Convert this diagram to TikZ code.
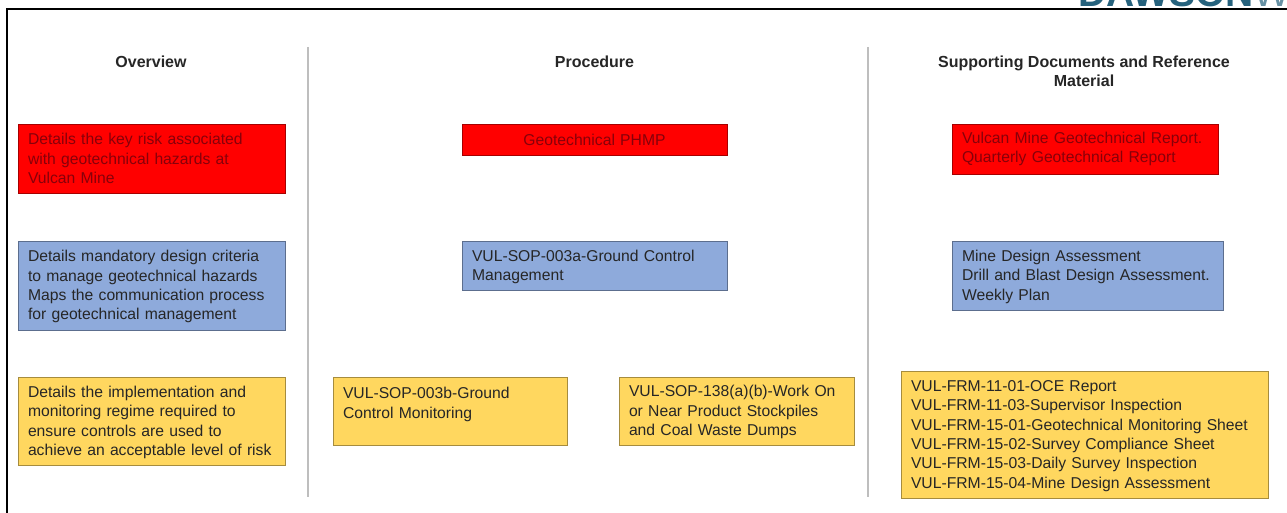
\documentclass[tikz,border=0pt]{standalone}
\usepackage{fontspec}
\setmainfont{Liberation Sans}
\definecolor{rfill}{RGB}{255,0,0}
\definecolor{rtext}{RGB}{135,0,10}
\definecolor{bfill}{RGB}{142,170,219}
\definecolor{yfill}{RGB}{255,215,95}
\definecolor{logo}{RGB}{38,98,125}
\definecolor{divider}{RGB}{190,190,190}
\tikzset{
  card/.style={draw=#1!65!black,line width=0.8pt,anchor=north west,inner xsep=10pt,inner ysep=0pt,
    align=left,font=\fontsize{15.7}{19.4}\selectfont,text=black!85,outer sep=0pt},
  redcard/.style={card=rfill,fill=rfill,text=rtext},
  bluecard/.style={card=bfill,fill=bfill,execute at begin node={\rule{0pt}{14pt}}},
  yellowcard/.style={card=yfill,fill=yfill,execute at begin node={\rule{0pt}{14pt}}},
  heading/.style={font=\fontsize{16}{19.4}\selectfont\bfseries,align=center,text=black!85},
  divline/.style={draw=divider,line width=2pt},
  frameline/.style={draw=black,line width=2pt}
}
\newcommand{\cardat}[7]{\node[#1,minimum width=#4pt-#2pt-0.5pt,minimum height=#5pt-#3pt,text width=#4pt-#2pt-20pt] (#6) at (#2pt,-#3pt) {#7};}
\begin{document}
\begin{tikzpicture}[x=1pt,y=-1pt]
\useasboundingbox (0,0) rectangle (1287,513);
\begin{scope}
\clip (1000,0) rectangle (1287,8);
\node[anchor=base west,inner sep=0pt,text=logo,font=\fontsize{39}{39}\selectfont\bfseries] (logo) at (1078,7) {DAWSON};
\node[anchor=base west,inner sep=0pt,text=logo!70,font=\fontsize{39}{39}\selectfont] (logow) at (1253,7) {W};
\end{scope}
\coordinate (fa) at (7,513);
\coordinate (fb) at (7,9.5);
\coordinate (fc) at (1287,9.5);
\draw[frameline] (fa) -- (fb) -- (fc);
\coordinate (d1a) at (308,47);
\coordinate (d1b) at (308,497);
\coordinate (d2a) at (868,47);
\coordinate (d2b) at (868,497);
\draw[divline] (d1a) -- (d1b);
\draw[divline] (d2a) -- (d2b);
\node[heading] (h1) at (151,62) {Overview};
\node[heading] (h2) at (594.5,62) {Procedure};
\node[heading] (h3) at (1084,71.5) {Supporting Documents and Reference\\Material};
\cardat{redcard}{18}{124}{285}{193}{r1}{Details the key risk associated\\with geotechnical hazards at\\Vulcan Mine}
\node[redcard,minimum width=264.5pt,minimum height=31pt,text width=245pt,align=center] (r2) at (462pt,-124pt) {Geotechnical PHMP};
\cardat{redcard}{952}{124}{1218}{174}{r3}{Vulcan Mine Geotechnical Report.\\Quarterly Geotechnical Report}
\cardat{bluecard}{18}{241}{285}{330}{b1}{Details mandatory design criteria\\to manage geotechnical hazards\\Maps the communication process\\for geotechnical management}
\cardat{bluecard}{462}{241}{727}{290}{b2}{VUL-SOP-003a-Ground Control\\Management}
\cardat{bluecard}{952}{241}{1223}{310}{b3}{Mine Design Assessment\\Drill and Blast Design Assessment.\\Weekly Plan}
\cardat{yellowcard}{18}{377}{285}{465}{y1}{Details the implementation and\\monitoring regime required to\\ensure controls are used to\\achieve an acceptable level of risk}
\cardat{yellowcard}{333}{377}{567}{445}{y2}{VUL-SOP-003b-Ground\\Control Monitoring\\\mbox{}}
\cardat{yellowcard}{619}{377}{854}{445}{y3}{VUL-SOP-138(a)(b)-Work On\\or Near Product Stockpiles\\and Coal Waste Dumps}
\cardat{yellowcard}{901}{371}{1268}{498}{y4}{VUL-FRM-11-01-OCE Report\\VUL-FRM-11-03-Supervisor Inspection\\VUL-FRM-15-01-Geotechnical Monitoring Sheet\\VUL-FRM-15-02-Survey Compliance Sheet\\VUL-FRM-15-03-Daily Survey Inspection\\VUL-FRM-15-04-Mine Design Assessment}
\end{tikzpicture}
\end{document}
